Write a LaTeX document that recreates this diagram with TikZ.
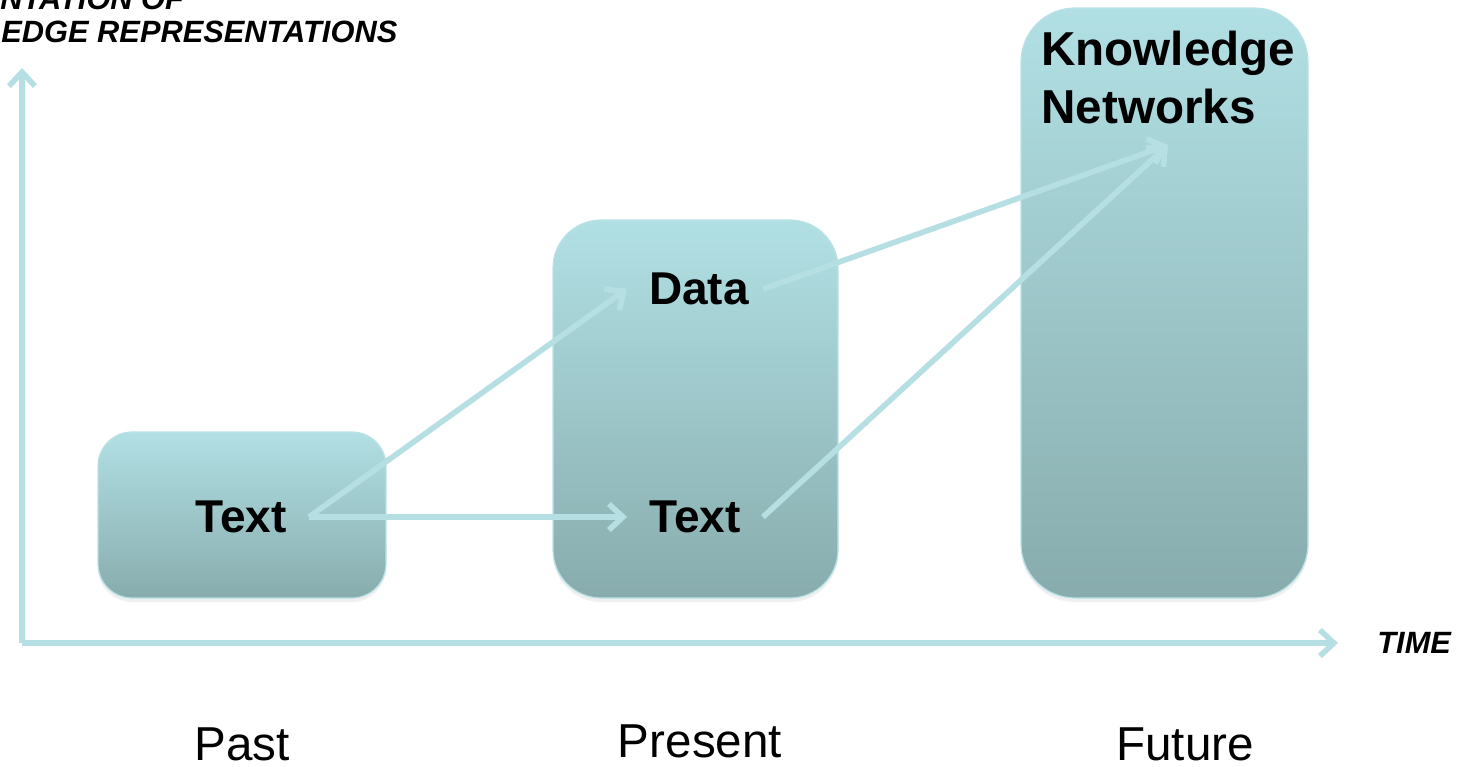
\documentclass[tikz,border=0pt]{standalone}
\usepackage{fontspec}
\setmainfont{Liberation Sans}
\usetikzlibrary{arrows.meta,shadows}
\definecolor{boxtop}{RGB}{177,224,228}
\definecolor{boxbot}{RGB}{136,172,173}
\definecolor{arrowc}{RGB}{182,223,227}
\definecolor{boxedge}{RGB}{186,226,230}
\tikzset{
  era/.style={rounded corners=#1, top color=boxtop, bottom color=boxbot, draw=boxedge, line width=0.6pt,
    drop shadow={opacity=0.12, shadow xshift=0pt, shadow yshift=-2pt}},
  item/.style={font=\fontsize{23}{27}\selectfont\bfseries, inner xsep=11pt, inner ysep=0pt},
  axislab/.style={font=\fontsize{15.4}{16}\selectfont\bfseries\itshape, inner sep=0pt, anchor=base west},
  eralab/.style={font=\fontsize{23.8}{28}\selectfont, inner sep=0pt, anchor=base},
  link/.style={draw=arrowc, line width=2.8pt, -{Straight Barb[length=7pt,width=13pt]}},
}
\begin{document}
\begin{tikzpicture}[x=0.5pt,y=-0.5pt]
\clip (0,0) rectangle (1459,766);
\useasboundingbox (0,0) rectangle (1459,766);
% boxes
\node[era=17pt, minimum width=144pt, minimum height=83pt] (pastbox) at (242,515) {};
\node[era=24pt, minimum width=142.5pt, minimum height=189pt] (presbox) at (695.5,409) {};
\node[era=27pt, minimum width=143.5pt, minimum height=295pt] (futbox) at (1164.5,303) {};
% axes
\coordinate (origin) at (22,643);
\coordinate (ytip) at (22,68);
\coordinate (xtip) at (1338,643);
\draw[link] (origin) -- (ytip);
\draw[link] (origin) -- (xtip);
% axis labels
\node[axislab] (ylab1) at (0,9) {NTATION OF};
\node[axislab] (ylab2) at (1,42) {EDGE REPRESENTATIONS};
\node[axislab] (xlab) at (1377,653) {TIME};
% items
\node[item] (text1) at (241,517) {Text};
\node[item] (data) at (699,289) {Data};
\node[item] (text2) at (695,517) {Text};
\node[font=\fontsize{23.8}{29}\selectfont\bfseries, inner sep=0pt, anchor=north west, align=left] (kn) at (1041,31) {Knowledge\\Networks};
\coordinate (kntip) at (1168,145);
% links
\draw[link] (text1.east) -- (data.west);
\draw[link] (text1.east) -- (text2.west);
\draw[link] ([xshift=-4pt]data.east) -- (kntip);
\draw[link] (text2.east) -- (kntip);
% era labels
\node[eralab] (past) at (242,760) {Past};
\node[eralab] (present) at (700,757) {Present};
\node[eralab] (future) at (1185,760) {Future};
\end{tikzpicture}
\end{document}
